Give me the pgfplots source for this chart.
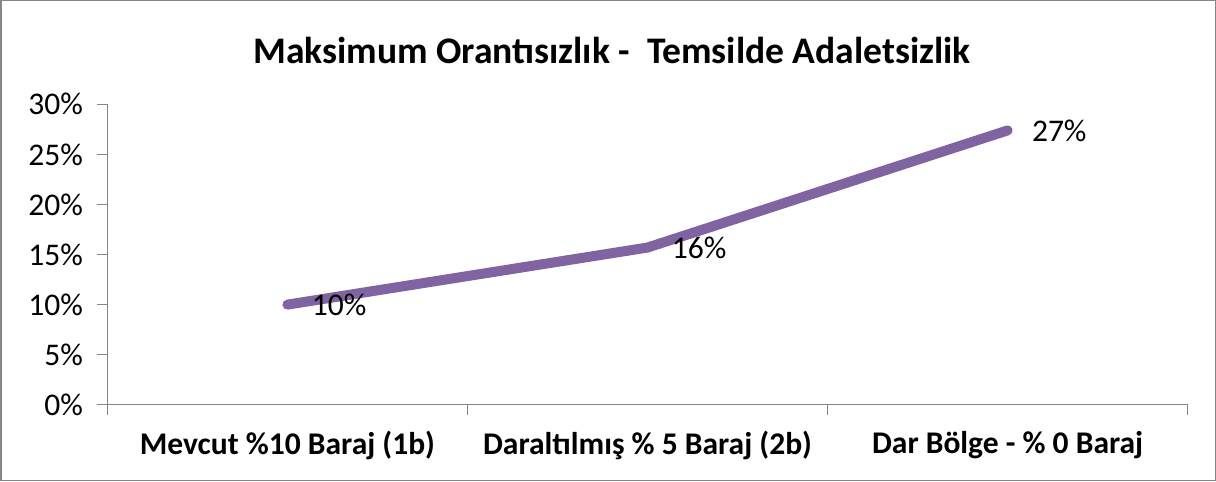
\documentclass[border=0pt]{standalone}
\usepackage{pgfplots}
\pgfplotsset{compat=1.18}
\usepackage{fontspec}
\setmainfont{Carlito}
\definecolor{linepurple}{HTML}{8064A2}
\definecolor{axgray}{HTML}{868686}
\begin{document}
\begin{tikzpicture}[x=1bp,y=1bp]
\draw[axgray, line width=1.5bp] (1.5,1.5) rectangle (1214.5,480.5);
\node[font=\bfseries\fontsize{37.5bp}{44bp}\selectfont, anchor=center] at (612,431) {Maksimum Orantısızlık -\ \ Temsilde Adaletsizlik};
\begin{axis}[
  at={(108bp,77bp)}, anchor=south west,
  scale only axis, width=1079bp, height=300bp,
  xmin=-0.5, xmax=2.5, ymin=0, ymax=30,
  axis x line*=bottom, axis y line*=left,
  axis line style={axgray, line width=1.5bp, -},
  tick style={axgray, line width=1.5bp},
  tick align=outside, major tick length=10bp,
  xtick={-0.5,0.5,1.5,2.5}, xticklabels={},
  extra x ticks={0,1,2},
  extra x tick labels={Mevcut \%10 Baraj (1b), Daraltılmış \% 5 Baraj (2b), Dar Bölge - \% 0 Baraj},
  extra x tick style={major tick length=0pt, tick style={draw=none},
    xticklabel style={font=\bfseries\fontsize{31.5bp}{36bp}\selectfont, yshift=-23bp}},
  ytick={0,5,10,15,20,25,30},
  yticklabels={0\%,5\%,10\%,15\%,20\%,25\%,30\%},
  yticklabel style={font=\fontsize{31.5bp}{36bp}\selectfont, xshift=-11bp},
  clip=false,
]
\addplot[linepurple, line width=10bp, line cap=round, line join=round,
  nodes near coords, point meta=explicit symbolic,
  every node near coord/.append style={anchor=west, xshift=16bp, text=black,
    font=\fontsize{31.5bp}{36bp}\selectfont}]
  coordinates {(0,10) [10\%] (1,15.7) [16\%] (2,27.4) [27\%]};
\end{axis}
\end{tikzpicture}
\end{document}
